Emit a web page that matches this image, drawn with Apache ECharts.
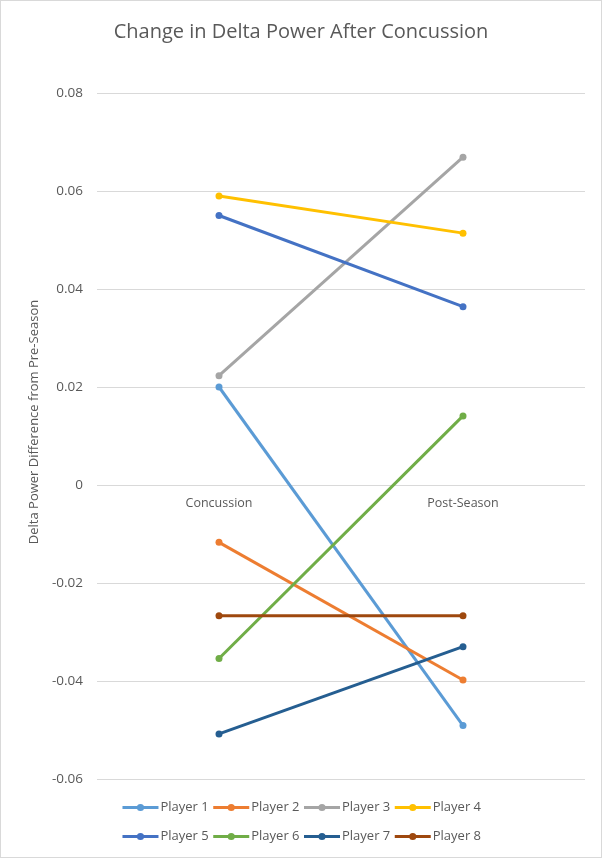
<!DOCTYPE html>
<html>
<head>
<meta charset="utf-8">
<script src="https://cdn.jsdelivr.net/npm/echarts@6/dist/echarts.min.js"></script>
<style>
html,body{margin:0;padding:0;background:#fff;}
#chart{width:600px;height:856px;border:1px solid #d9d9d9;}
</style>
</head>
<body>
<div id="chart"></div>
<script>
var categories = ['Concussion', 'Post-Season'];
var playerNames = ['Player 1','Player 2','Player 3','Player 4','Player 5','Player 6','Player 7','Player 8'];
var player1 = [0.0200, -0.0491];
var player2 = [-0.0117, -0.0398];
var player3 = [0.0223, 0.0669];
var player4 = [0.0590, 0.0514];
var player5 = [0.0550, 0.0364];
var player6 = [-0.0354, 0.0141];
var player7 = [-0.0508, -0.0330];
var player8 = [-0.0267, -0.0267];
var yTicks = {min: -0.06, max: 0.08, interval: 0.02};

var colors = ['#5B9BD5','#ED7D31','#A5A5A5','#FFC000','#4472C4','#70AD47','#255E91','#9E480E'];
var values = [player1,player2,player3,player4,player5,player6,player7,player8];

var chart = echarts.init(document.getElementById('chart'));
var fontFam = '"Open Sans", "Noto Sans", sans-serif';
var series = values.map(function(v, i){
  return {
    name: playerNames[i],
    type: 'line',
    data: v,
    symbol: 'circle',
    symbolSize: 7,
    lineStyle: {width: 3, color: colors[i]},
    itemStyle: {color: colors[i]},
    emphasis: {disabled: true},
    z: 2 + i
  };
});
function legendCfg(names, top){
  return {
    data: names,
    top: top,
    left: 'center',
    itemWidth: 36,
    itemHeight: 9,
    itemGap: 3,
    lineStyle: {width: 3},
    textStyle: {color: '#595959', fontSize: 13, fontFamily: fontFam, padding: [0,0,0,-3]}
  };
}
var gridTop = 92, gridBottom = 78, chartH = 858;
var plotH = chartH - gridTop - gridBottom;
var zeroOffset = -plotH * (0 - yTicks.min) / (yTicks.max - yTicks.min);
chart.setOption({
  animation: false,
  color: colors,
  title: {
    text: 'Change in Delta Power After Concussion',
    left: 'center',
    top: 16,
    textStyle: {color: '#595959', fontSize: 20, fontWeight: 'normal', fontFamily: fontFam}
  },
  legend: [legendCfg(playerNames.slice(0,4), 795), legendCfg(playerNames.slice(4), 824)],
  grid: {left: 96, right: 16, top: gridTop, bottom: gridBottom},
  xAxis: {
    type: 'category',
    data: categories,
    boundaryGap: true,
    offset: zeroOffset,
    axisLine: {show: false, onZero: false},
    axisTick: {show: false},
    axisLabel: {color: '#595959', fontSize: 12.5, fontFamily: fontFam, margin: 13}
  },
  yAxis: {
    type: 'value',
    min: yTicks.min,
    max: yTicks.max,
    interval: yTicks.interval,
    name: 'Delta Power Difference from Pre-Season',
    nameLocation: 'middle',
    nameGap: 54,
    nameTextStyle: {color: '#595959', fontSize: 13, fontFamily: fontFam, padding: [0,0,0,28]},
    axisLine: {show: false},
    axisTick: {show: false},
    splitLine: {lineStyle: {color: '#d9d9d9', width: 1}},
    axisLabel: {
      color: '#595959', fontSize: 13.5, fontFamily: fontFam, margin: 14,
      formatter: function(v){ return Math.abs(v) < 1e-9 ? '0' : v.toFixed(2); }
    }
  },
  series: series
});
</script>
</body>
</html>
